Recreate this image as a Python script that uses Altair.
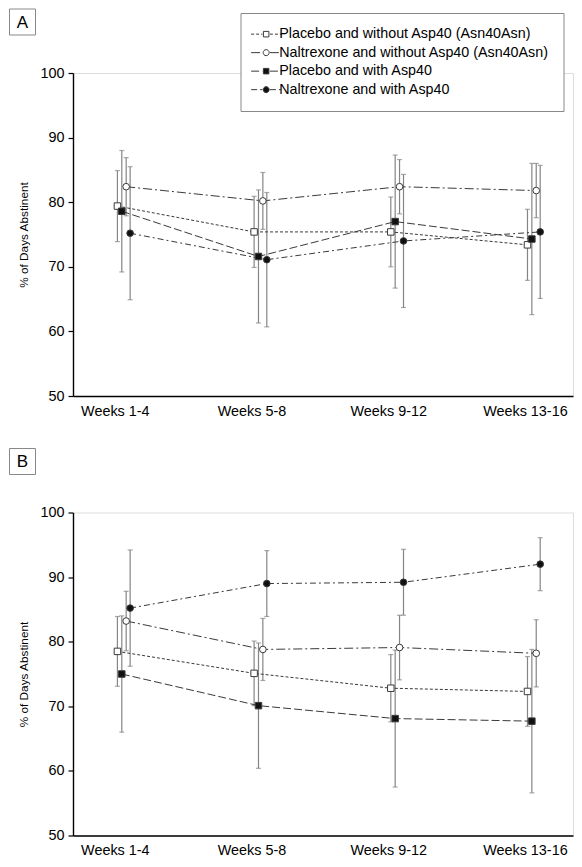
import altair as alt
import pandas as pd

weeks = ["Weeks 1-4", "Weeks 5-8", "Weeks 9-12", "Weeks 13-16"]
series = [
    "Placebo and without Asp40 (Asn40Asn)",
    "Naltrexone and without Asp40 (Asn40Asn)",
    "Placebo and with Asp40",
    "Naltrexone and with Asp40",
]

# Panel A: mean % days abstinent and error (half-length of bars)
a_placebo_without = [79.4, 75.4, 75.4, 73.4]
a_placebo_without_err = [5.5, 5.5, 5.4, 5.5]
a_naltrexone_without = [82.4, 80.2, 82.4, 81.8]
a_naltrexone_without_err = [4.5, 4.4, 4.2, 4.2]
a_placebo_with = [78.6, 71.6, 77.0, 74.3]
a_placebo_with_err = [9.4, 10.3, 10.3, 11.7]
a_naltrexone_with = [75.2, 71.1, 74.0, 75.4]
a_naltrexone_with_err = [10.3, 10.4, 10.3, 10.3]

# Panel B
b_placebo_without = [78.5, 75.1, 72.8, 72.3]
b_placebo_without_err = [5.4, 5.0, 5.2, 5.4]
b_naltrexone_without = [83.2, 78.8, 79.1, 78.2]
b_naltrexone_without_err = [4.6, 4.8, 5.0, 5.2]
b_placebo_with = [75.0, 70.1, 68.1, 67.7]
b_placebo_with_err = [9.0, 9.7, 10.6, 11.1]
b_naltrexone_with = [85.2, 89.0, 89.2, 92.0]
b_naltrexone_with_err = [9.0, 5.1, 5.1, 4.1]

# ---- styles ----
FONT = "Liberation Sans"
X_SHIFT = {series[0]: -0.047, series[1]: 0.017, series[2]: -0.015, series[3]: 0.046}
DASHES = [[3, 2], [9, 3, 2, 3], [8, 3], [6, 3, 2, 3]]
FILLS = ["white", "white", "#111111", "#111111"]
SHAPES = ["square", "circle", "square", "circle"]
LINE_COLOR = "#3a3a3a"
BAR_COLOR = "#858585"


def dash_segments(pattern, start, end):
    # pattern in legend units (1 unit = 5 px)
    out = []
    pos = start
    i = 0
    while pos < end - 1e-6:
        seg = pattern[i % len(pattern)]
        if i % 2 == 0:
            out.append(f"M{pos:.2f},0H{min(pos + seg, end):.2f}")
        pos += seg
        i += 1
    return "".join(out)


SQUARE_P = "M-0.55,-0.55H0.55V0.55H-0.55Z"
CIRCLE_P = "M0.6,0A0.6,0.6 0 1,1 -0.6,0A0.6,0.6 0 1,1 0.6,0Z"
legend_paths = []
for dash, shp in zip(DASHES, SHAPES):
    unit_dash = [v / 5.0 for v in dash]
    left = dash_segments(unit_dash, -3.0, -0.75)
    right = dash_segments(unit_dash, 0.75, 3.0)
    legend_paths.append(left + (SQUARE_P if shp == "square" else CIRCLE_P) + right)

symbol_expr = ""
for s, p in zip(series[:-1], legend_paths[:-1]):
    symbol_expr += f"datum.value === '{s}' ? '{p}' : "
symbol_expr += f"'{legend_paths[-1]}'"

panels = {
    "A": [
        (a_placebo_without, a_placebo_without_err),
        (a_naltrexone_without, a_naltrexone_without_err),
        (a_placebo_with, a_placebo_with_err),
        (a_naltrexone_with, a_naltrexone_with_err),
    ],
    "B": [
        (b_placebo_without, b_placebo_without_err),
        (b_naltrexone_without, b_naltrexone_without_err),
        (b_placebo_with, b_placebo_with_err),
        (b_naltrexone_with, b_naltrexone_with_err),
    ],
}

rows = []
for pname, lst in panels.items():
    for s, shp, (vals, errs) in zip(series, SHAPES, lst):
        for wi, (v, e) in enumerate(zip(vals, errs)):
            rows.append({
                "panel": pname, "series": s, "marker": shp, "week": weeks[wi], "widx": wi,
                "xpos": wi + X_SHIFT[s], "mean": v, "lo": v - e, "hi": v + e,
            })
df = pd.DataFrame(rows)

label_expr = "[" + ",".join(f"'{w}'" for w in weeks) + "][datum.value]"

x_axis = alt.Axis(
    values=[0, 1, 2, 3], labelExpr=label_expr, grid=False, ticks=False, tickSize=0,
    domainColor="black", domainWidth=1.4, labelFont=FONT, labelFontSize=14.4,
    labelColor="black", labelPadding=8, labelOffset=-9, title=None,
)
y_axis = alt.Axis(
    values=[50, 60, 70, 80, 90, 100], grid=False, tickSize=5, tickColor="black",
    tickWidth=1.2, domainColor="black", domainWidth=1.4, labelFont=FONT,
    labelFontSize=14.4, labelColor="black", labelPadding=4,
    titleFont=FONT, titleFontSize=11.8, titleFontWeight="normal", titleColor="black",
    titlePadding=10,
)
x_scale = alt.Scale(domain=[-0.372, 3.286], nice=False, zero=False)
y_scale = alt.Scale(domain=[50, 100], nice=False, zero=False)
Y_TITLE = "% of Days Abstinent"
fill_scale = alt.Scale(domain=series, range=FILLS)

legend_spec = alt.Legend(
    orient="none", legendX=167.5, legendY=-60, padding=14, strokeColor="#888888",
    fillColor="white", labelFont=FONT, labelFontSize=14.3, labelColor="black",
    labelLimit=500, symbolSize=100, symbolOffset=4.5, labelOffset=6,
    rowPadding=3.5, symbolStrokeWidth=1, symbolStrokeColor=LINE_COLOR,
    symbolType={"expr": symbol_expr}, title=None,
)


def xenc():
    return alt.X("xpos:Q", scale=x_scale, axis=x_axis)


def yenc(field):
    return alt.Y(f"{field}:Q", scale=y_scale, axis=y_axis, title=Y_TITLE)


def panel(letter, with_legend):
    d = df[df["panel"] == letter]
    base = alt.Chart(d)
    leg = legend_spec if with_legend else None
    line_layers = []
    for s, dash in zip(series, DASHES):
        line_layers.append(
            base.transform_filter(alt.datum.series == s).mark_line(
                color=LINE_COLOR, strokeWidth=1, strokeDash=dash
            ).encode(x=xenc(), y=yenc("mean"))
        )
    bars = base.mark_rule(color=BAR_COLOR, strokeWidth=1.2).encode(
        x=xenc(), y=yenc("lo"), y2="hi:Q",
    )
    cap_lo = base.mark_tick(orient="horizontal", size=5, thickness=1.2, color=BAR_COLOR).encode(
        x=xenc(), y=yenc("lo"),
    )
    cap_hi = base.mark_tick(orient="horizontal", size=5, thickness=1.2, color=BAR_COLOR).encode(
        x=xenc(), y=yenc("hi"),
    )
    squares = base.transform_filter(alt.datum.marker == "square").mark_point(
        shape="square", filled=True, size=42, stroke=LINE_COLOR, strokeWidth=1, opacity=1
    ).encode(
        x=xenc(), y=yenc("mean"),
        fill=alt.Fill("series:N", scale=fill_scale, legend=leg),
    )
    circles = base.transform_filter(alt.datum.marker == "circle").mark_point(
        shape="circle", filled=True, size=44, stroke=LINE_COLOR, strokeWidth=1, opacity=1
    ).encode(
        x=xenc(), y=yenc("mean"),
        fill=alt.Fill("series:N", scale=fill_scale, legend=leg),
    )
    box_data = alt.Data(values=[{"label": letter}])
    box = alt.Chart(box_data).mark_rect(fill="white", stroke="#888888", strokeWidth=1).encode(
        x=alt.value(-63.5), x2=alt.value(-37.5), y=alt.value(-64), y2=alt.value(-38),
    )
    box_txt = alt.Chart(box_data).mark_text(
        font=FONT, fontSize=17, color="black", align="center", baseline="middle"
    ).encode(x=alt.value(-50.5), y=alt.value(-50.5), text="label:N")

    layers = [bars, cap_lo, cap_hi] + line_layers + [squares, circles, box, box_txt]
    return alt.layer(*layers).properties(width=500, height=323)


chart = alt.vconcat(panel("A", True), panel("B", False), spacing=116.5, bounds="flush").properties(
    padding={"left": 0, "top": 0, "right": 0, "bottom": 5}
).configure_view(stroke=None).configure(font=FONT)

chart.save("out.html", embed_options={"renderer": "svg", "actions": False})
